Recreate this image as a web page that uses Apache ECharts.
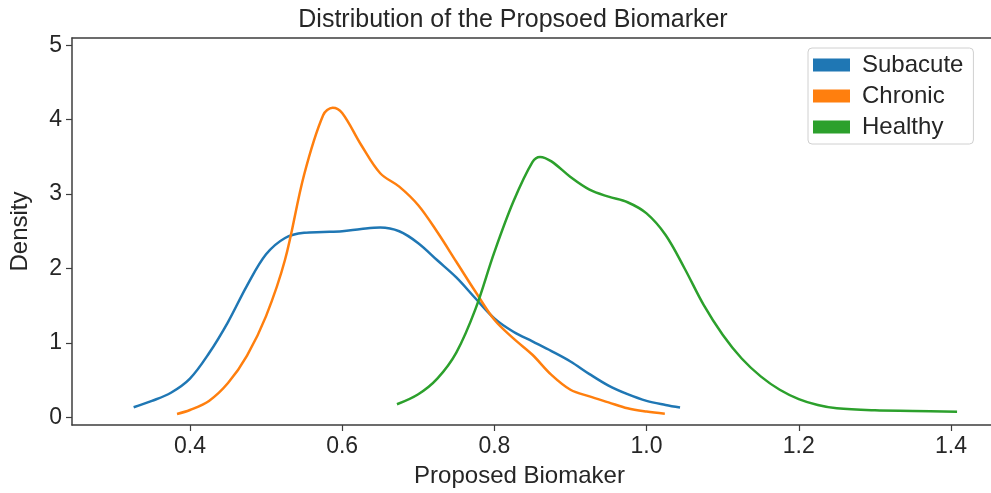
<!DOCTYPE html>
<html>
<head>
<meta charset="utf-8">
<script src="https://cdn.jsdelivr.net/npm/echarts@6/dist/echarts.min.js"></script>
<style>
  html, body { margin: 0; padding: 0; background: #fff; }
  #main { width: 991px; height: 493px; }
</style>
</head>
<body>
<div id="main"></div>
<script>
var seriesNames = ['Subacute', 'Chronic', 'Healthy'];
var seriesColors = ['#1f77b4', '#ff7f0e', '#2ca02c'];

var subacuteX = [0.326, 0.35, 0.375, 0.40, 0.425, 0.45, 0.475, 0.50, 0.525, 0.55, 0.575, 0.60, 0.625, 0.65, 0.675, 0.70, 0.725, 0.75, 0.775, 0.80, 0.825, 0.85, 0.875, 0.90, 0.925, 0.95, 0.975, 1.00, 1.025, 1.044];
var subacuteY = [0.134, 0.22, 0.33, 0.52, 0.86, 1.28, 1.77, 2.19, 2.41, 2.48, 2.49, 2.50, 2.53, 2.55, 2.50, 2.34, 2.11, 1.88, 1.60, 1.33, 1.15, 1.02, 0.89, 0.75, 0.58, 0.425, 0.31, 0.22, 0.165, 0.13];

var chronicX = [0.383, 0.40, 0.425, 0.45, 0.475, 0.50, 0.525, 0.55, 0.575, 0.5875, 0.60, 0.625, 0.65, 0.675, 0.70, 0.725, 0.75, 0.775, 0.80, 0.825, 0.85, 0.875, 0.90, 0.925, 0.95, 0.975, 1.00, 1.024];
var chronicY = [0.045, 0.098, 0.22, 0.46, 0.83, 1.36, 2.12, 3.26, 4.06, 4.16, 4.09, 3.66, 3.28, 3.10, 2.85, 2.49, 2.09, 1.69, 1.31, 1.06, 0.84, 0.57, 0.37, 0.28, 0.20, 0.12, 0.076, 0.048];

var healthyX = [0.672, 0.70, 0.725, 0.75, 0.775, 0.80, 0.825, 0.85, 0.86, 0.875, 0.90, 0.925, 0.95, 0.975, 1.00, 1.025, 1.05, 1.075, 1.10, 1.125, 1.15, 1.175, 1.20, 1.225, 1.25, 1.30, 1.35, 1.408];
var healthyY = [0.175, 0.31, 0.52, 0.87, 1.45, 2.22, 2.90, 3.43, 3.50, 3.44, 3.23, 3.06, 2.965, 2.89, 2.74, 2.45, 2.00, 1.51, 1.11, 0.79, 0.55, 0.37, 0.245, 0.165, 0.12, 0.093, 0.085, 0.075];

var xTicks = [0.4, 0.6, 0.8, 1.0, 1.2, 1.4];
var yTicks = [0, 1, 2, 3, 4, 5];

function pairs(xs, ys) {
  return xs.map(function (x, i) { return [x, ys[i]]; });
}

var curves = [pairs(subacuteX, subacuteY), pairs(chronicX, chronicY), pairs(healthyX, healthyY)];

var font = "'Liberation Sans', Arial, sans-serif";
var ink = '#262626';
var spine = '#3d3d3d';
var xMin = 0.245, xMax = 1.4526;

var myChart = echarts.init(document.getElementById('main'));

var option = {
  animation: false,
  backgroundColor: '#fff',
  title: {
    text: 'Distribution of the Propsoed Biomarker',
    left: 508,
    top: 3,
    textAlign: 'center',
    textStyle: { fontFamily: font, fontSize: 25, fontWeight: 'normal', color: ink }
  },
  legend: {
    data: seriesNames,
    orient: 'vertical',
    left: 808,
    top: 48,
    padding: [5, 10, 5, 5],
    itemGap: 7,
    itemWidth: 37,
    itemHeight: 13,
    icon: 'rect',
    borderColor: '#d0d0d0',
    borderWidth: 1,
    borderRadius: 4,
    backgroundColor: '#fff',
    textStyle: { fontFamily: font, fontSize: 24, color: ink, padding: [0, 0, 0, 7] }
  },
  grid: {
    left: 72,
    top: 38,
    right: 0,
    bottom: 68,
    containLabel: false
  },
  xAxis: [{
    type: 'value',
    min: xMin,
    max: xMax,
    name: 'Proposed Biomaker',
    nameLocation: 'middle',
    nameGap: 39,
    nameTextStyle: { fontFamily: font, fontSize: 24, color: ink, padding: [0, 24, 0, 0] },
    axisLine: { show: true, onZero: false, lineStyle: { color: spine, width: 1.5 } },
    axisTick: { show: true, customValues: xTicks, length: 6, lineStyle: { color: spine, width: 1.2 } },
    axisLabel: {
      customValues: xTicks,
      margin: 10,
      fontFamily: font,
      fontSize: 23,
      color: ink,
      formatter: function (v) { return v.toFixed(1); }
    },
    splitLine: { show: false }
  }, {
    // top spine
    type: 'value',
    position: 'top',
    min: xMin,
    max: xMax,
    axisLine: { show: true, onZero: false, lineStyle: { color: spine, width: 1.5 } },
    axisTick: { show: false },
    axisLabel: { show: false },
    splitLine: { show: false }
  }],
  yAxis: {
    type: 'value',
    min: -0.104,
    max: 5.098,
    name: 'Density',
    nameLocation: 'middle',
    nameGap: 40,
    nameRotate: 90,
    nameTextStyle: { fontFamily: font, fontSize: 24, color: ink },
    axisLine: { show: true, onZero: false, lineStyle: { color: spine, width: 1.5 } },
    axisTick: { show: true, customValues: yTicks, length: 6, lineStyle: { color: spine, width: 1.2 } },
    axisLabel: {
      customValues: yTicks,
      margin: 10,
      fontFamily: font,
      fontSize: 23,
      color: ink,
      formatter: function (v) { return String(Math.round(v)); }
    },
    splitLine: { show: false }
  },
  series: seriesNames.map(function (name, i) {
    return {
      name: name,
      type: 'line',
      data: curves[i],
      smooth: 0.35,
      showSymbol: false,
      color: seriesColors[i],
      lineStyle: { width: 2.5, color: seriesColors[i] }
    };
  })
};

myChart.setOption(option);
</script>
</body>
</html>
